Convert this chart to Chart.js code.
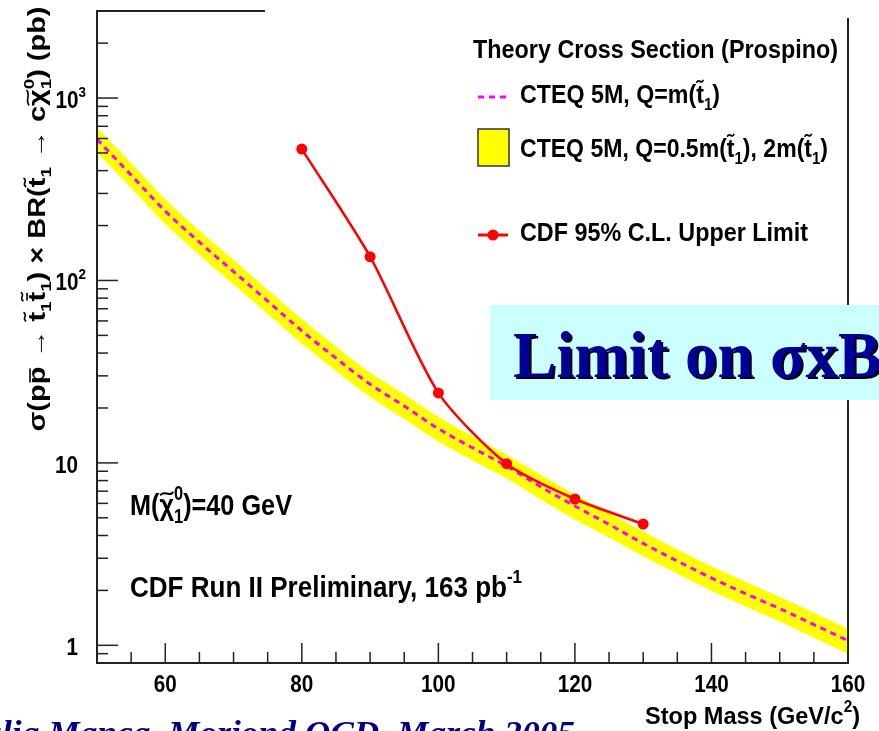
<!DOCTYPE html>
<html lang="en">
<head>
  <meta charset="UTF-8">
  <title>Stop limit</title>
  <script src="https://cdn.jsdelivr.net/npm/chart.js"></script>
  <style>
    html, body { margin: 0; padding: 0; background: #fff; overflow: hidden; }
    canvas { display: block; }
  </style>
</head>
<body>
  <canvas id="limitChart" width="879" height="731"></canvas>

  <script>
    // Theory band (Prospino, CTEQ 5M), pb
    const massGrid = [50, 55, 60, 65, 70, 75, 80, 85, 90, 95, 100, 105, 110, 115, 120, 125, 130, 135, 140, 145, 150, 155, 160];
    const theoryCentral = [594, 378, 240, 162, 112, 77, 53, 37.5, 27, 20.5, 15.4, 12.1, 9.6, 7.4, 5.8, 4.6, 3.62, 2.9, 2.34, 1.92, 1.59, 1.30, 1.06];
    const theoryUpper = [690, 440, 279, 188, 130, 89, 61.5, 43.5, 31.3, 23.8, 17.9, 14.0, 11.1, 8.6, 6.7, 5.3, 4.2, 3.36, 2.71, 2.23, 1.84, 1.51, 1.23];
    const theoryLower = [505, 321, 204, 138, 95, 65.5, 45, 31.9, 23.0, 17.4, 13.1, 10.3, 8.2, 6.3, 4.9, 3.9, 3.08, 2.47, 1.99, 1.63, 1.35, 1.10, 0.90];

    // CDF 95% C.L. upper limit
    const limitMass = [80, 90, 100, 110, 120, 130];
    const limitXsec = [525, 135, 24.2, 9.9, 6.34, 4.62];

    // axis labels
    const xTickLabels = [60, 80, 100, 120, 140, 160];
    const yTickValues = [1, 10, 100, 1000];
    const yTickLabels = [['1'], ['10'], [{ t: '10', sup: '2' }], [{ t: '10', sup: '3' }]];

    const FONT = '"Liberation Sans", Arial, sans-serif';
    const pts = (xs, ys) => xs.map((x, i) => ({ x: x, y: ys[i] }));

    // draws text made of pieces with sub/superscripts, tildes and bars
    function runRich(c, parts, x, y, size, draw) {
      let cx = x;
      for (const p of parts) {
        const o = typeof p === 'string' ? { t: p } : p;
        c.font = 'bold ' + size + 'px ' + FONT;
        if (o.t) {
          const m = c.measureText(o.t);
          const w = m.width;
          if (draw) {
            c.fillText(o.t, cx, y);
            const top = y - m.actualBoundingBoxAscent;
            if (o.bar) {
              c.fillRect(cx + w * 0.1, top - size * 0.12, w * 0.8, size * 0.07);
            }
            if (o.tilde) {
              const ty = top - size * (o.bar ? 0.3 : 0.18);
              const a = size * 0.06;
              c.save();
              c.lineWidth = size * 0.07;
              c.strokeStyle = c.fillStyle;
              c.beginPath();
              c.moveTo(cx + w * 0.05, ty + a);
              c.bezierCurveTo(cx + w * 0.3, ty - 2.5 * a, cx + w * 0.7, ty + 2.5 * a, cx + w * 0.95, ty - a);
              c.stroke();
              c.restore();
            }
          }
          cx += w;
        }
        if (o.sub || o.sup) {
          c.font = 'bold ' + (size * 0.65) + 'px ' + FONT;
          const ws = o.sub ? c.measureText(o.sub).width : 0;
          const wp = o.sup ? c.measureText(o.sup).width : 0;
          if (draw) {
            if (o.sub) c.fillText(o.sub, cx, y + size * 0.25);
            if (o.sup) c.fillText(o.sup, cx, y - size * 0.5);
          }
          cx += Math.max(ws, wp);
        }
      }
      return cx - x;
    }

    function drawRich(c, parts, x, y, opt) {
      c.textAlign = 'left';
      c.textBaseline = 'alphabetic';
      const nat = runRich(c, parts, 0, 0, opt.size, false);
      const sx = opt.width ? opt.width / nat : (opt.sx || 1);
      const w = nat * sx;
      const left = opt.align === 'right' ? x - w : opt.align === 'center' ? x - w / 2 : x;
      c.save();
      c.translate(left, y);
      c.scale(sx, 1);
      c.fillStyle = opt.color || '#000';
      runRich(c, parts, 0, 0, opt.size, true);
      c.restore();
    }

    const tl = { t: 't', tilde: true, sub: '1' };

    // frame, ticks, labels, legend and slide overlays
    const decorations = {
      id: 'decorations',
      afterDraw(chart) {
        const c = chart.ctx;
        const xs = chart.scales.x, ys = chart.scales.y;
        const L = chart.chartArea.left, R = chart.chartArea.right;
        const T = chart.chartArea.top, B = chart.chartArea.bottom;
        c.save();

        // frame
        c.strokeStyle = '#222';
        c.lineWidth = 2;
        c.beginPath();
        c.moveTo(265, T); c.lineTo(L, T); c.lineTo(L, B); c.lineTo(R, B); c.lineTo(R, 18);
        c.stroke();

        // x ticks every 5, long every 20
        c.lineWidth = 1.5;
        for (let m = 55; m <= 155; m += 5) {
          const px = xs.getPixelForValue(m);
          const len = (m % 20 === 0) ? 20 : 11;
          c.beginPath(); c.moveTo(px, B); c.lineTo(px, B - len); c.stroke();
        }
        // y ticks, log
        for (let d = 0.1; d <= 1000; d *= 10) {
          for (let k = 1; k <= 9; k++) {
            const v = Math.round(k * d * 100) / 100;
            if (v < 0.8 || v >= 3000) continue;
            const py = ys.getPixelForValue(v);
            const len = k === 1 ? 21 : 11;
            c.beginPath(); c.moveTo(L, py); c.lineTo(L + len, py); c.stroke();
          }
        }

        // tick labels
        xTickLabels.forEach(v => {
          drawRich(c, [String(v)], xs.getPixelForValue(v), 692, { size: 23, sx: 0.9, align: 'center' });
        });
        yTickValues.forEach((v, i) => {
          const right = v >= 100 ? 86 : 78;
          drawRich(c, yTickLabels[i], right, ys.getPixelForValue(v) + 10, { size: 23, sx: 0.9, align: 'right' });
        });

        // axis titles
        drawRich(c, ['Stop Mass (GeV/', { t: 'c', sup: '2' }, ')'], 860, 724, { size: 24, width: 215, align: 'right' });
        c.save();
        c.translate(45, 219);
        c.rotate(-Math.PI / 2);
        drawRich(c, ['σ(p', { t: 'p', bar: true }, ' → ', tl, { t: 't', tilde: true, bar: true, sub: '1' },
          ') × BR(', tl, ' → c', { t: 'χ', tilde: true, sub: '1', sup: '0' }, ') (pb)'],
          0, 0, { size: 23, width: 425, align: 'center' });
        c.restore();

        // legend
        drawRich(c, ['Theory Cross Section (Prospino)'], 473, 58, { size: 26, width: 365 });
        c.strokeStyle = '#ff00ff';
        c.lineWidth = 3;
        c.setLineDash([6, 5]);
        c.beginPath(); c.moveTo(478, 97); c.lineTo(510, 97); c.stroke();
        c.setLineDash([]);
        drawRich(c, ['CTEQ 5M, Q=m(', tl, ')'], 520, 103, { size: 26, width: 200 });
        c.fillStyle = '#ffff00';
        c.fillRect(478, 129, 31, 37);
        c.strokeStyle = '#333';
        c.lineWidth = 1.5;
        c.strokeRect(478, 129, 31, 37);
        drawRich(c, ['CTEQ 5M, Q=0.5m(', tl, '), 2m(', tl, ')'], 520, 157, { size: 26, width: 308 });
        c.strokeStyle = '#ff0000';
        c.fillStyle = '#ff0000';
        c.lineWidth = 3;
        c.beginPath(); c.moveTo(478, 235); c.lineTo(508, 235); c.stroke();
        c.beginPath(); c.arc(493, 235, 5.5, 0, Math.PI * 2); c.fill();
        drawRich(c, ['CDF 95% C.L. Upper Limit'], 520, 241, { size: 26, width: 288 });

        // in-plot notes
        drawRich(c, ['M(', { t: 'χ', tilde: true, sub: '1', sup: '0' }, ')=40 GeV'], 130, 515, { size: 30, width: 162 });
        drawRich(c, ['CDF Run II Preliminary, 163 ', { t: 'pb', sup: '-1' }], 130, 597, { size: 29, width: 392 });

        // slide title box
        c.fillStyle = '#ccffff';
        c.fillRect(490, 305, 400, 95);
        c.font = 'bold 66px "Liberation Serif", serif';
        c.textAlign = 'left';
        c.textBaseline = 'alphabetic';
        const sxT = 325 / c.measureText('Limit on σx').width;
        c.save();
        c.translate(513, 377);
        c.scale(sxT, 1);
        c.fillStyle = '#000';
        c.fillText('Limit on σxB', 2, 2);
        c.fillStyle = '#000099';
        c.fillText('Limit on σxB', 0, 0);
        c.restore();

        // slide footer, cut by the page edge
        c.font = 'bold italic 34px "Liberation Serif", serif';
        const foot = 'Giulia Manca, Moriond QCD, March 2005';
        const sxF = 573 / c.measureText('lia Manca, Moriond QCD, March 2005').width;
        const fw = c.measureText(foot).width * sxF;
        c.save();
        c.translate(575 - fw, 744);
        c.scale(sxF, 1);
        c.fillStyle = '#000080';
        c.fillText(foot, 0, 0);
        c.restore();

        c.restore();
      }
    };

    const ctx = document.getElementById('limitChart').getContext('2d');
    new Chart(ctx, {
      type: 'line',
      data: {
        datasets: [
          {
            label: 'band up',
            data: pts(massGrid, theoryUpper),
            borderWidth: 0,
            pointRadius: 0,
            backgroundColor: '#ffff00',
            fill: '+1',
            order: 3,
            cubicInterpolationMode: 'monotone'
          },
          {
            label: 'band down',
            data: pts(massGrid, theoryLower),
            borderWidth: 0,
            pointRadius: 0,
            fill: false,
            order: 2,
            cubicInterpolationMode: 'monotone'
          },
          {
            label: 'CTEQ 5M',
            data: pts(massGrid, theoryCentral),
            borderColor: '#ff00ff',
            borderWidth: 3,
            borderDash: [6, 5],
            pointRadius: 0,
            fill: false,
            order: 1,
            cubicInterpolationMode: 'monotone'
          },
          {
            label: 'CDF 95% C.L. Upper Limit',
            data: pts(limitMass, limitXsec),
            borderColor: '#ff0000',
            backgroundColor: '#ff0000',
            borderWidth: 2.5,
            pointRadius: 5.5,
            pointBorderWidth: 0,
            fill: false,
            order: 0,
            tension: 0.25
          }
        ]
      },
      options: {
        responsive: false,
        animation: false,
        layout: { padding: { left: 97, top: 11, right: 31, bottom: 68 } },
        scales: {
          x: { type: 'linear', min: 50, max: 160, display: false },
          y: { type: 'logarithmic', min: 0.8, max: 3000, display: false }
        },
        plugins: {
          legend: { display: false },
          tooltip: { enabled: false }
        }
      },
      plugins: [decorations]
    });
  </script>
</body>
</html>
